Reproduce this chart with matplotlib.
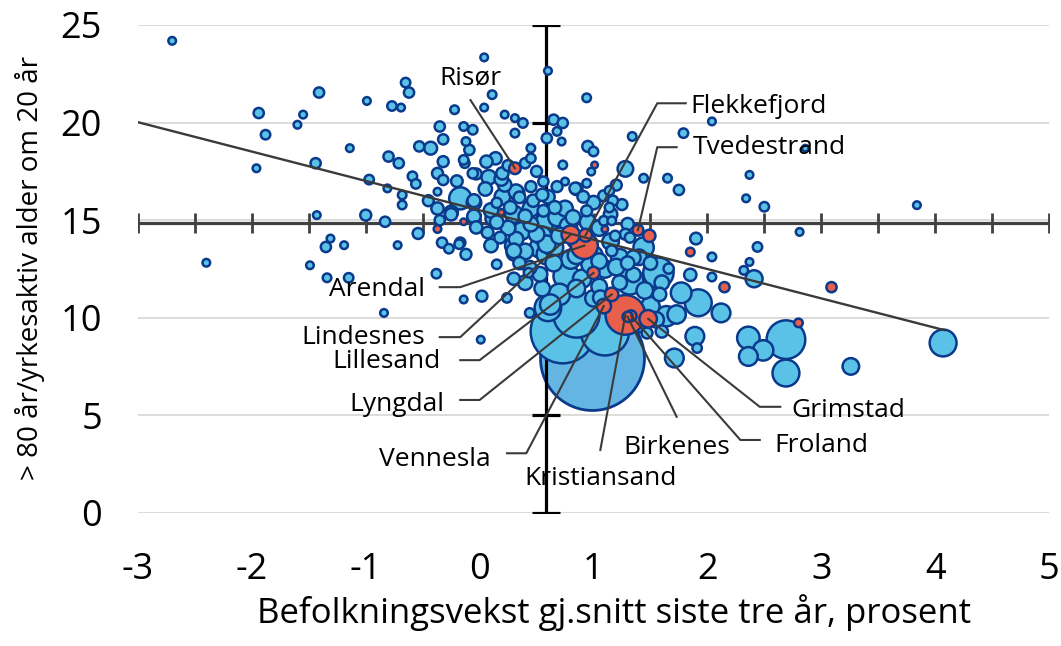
import matplotlib
matplotlib.use("Agg")
import matplotlib.pyplot as plt
import numpy as np

plt.rcParams["font.family"] = ["Open Sans", "DejaVu Sans"]
plt.rcParams["axes.unicode_minus"] = False

# Kommuner utenfor Agder: befolkningsvekst (%), >80 år/yrkesaktiv om 20 år, folketall (tusen)
growth = [
    -2.70, -1.94, -1.88, -1.96, -1.55, -1.60, -1.41, -1.44, -1.43, -1.14, -0.99, -0.97,
    -0.77, -0.69, -0.65, -0.62, -0.81, -0.80, -0.71, -0.68, -0.68, -0.59, -0.56, -1.00,
    -0.83, -0.54, -0.53, -0.43, -0.35, -0.32, -0.32, -0.37, -0.32, -0.37, -0.37, -0.35,
    -1.31, -1.35, -1.19, -2.40, -1.49, -1.34, -1.15, -0.72, -0.38, -0.33, -0.27, -0.84,
    0.04, 0.60, 0.11, -0.22, 0.04, 0.22, 0.31, 0.38, 0.31, 0.59, 0.65, 0.73,
    0.68, 0.72, 0.73, -0.14, -0.06, -0.12, -0.09, 0.14, 0.06, 0.45, 0.40, -0.13,
    -0.17, -0.03, 0.08, 0.22, 0.33, 0.45, 0.56, 0.15, -0.03, 0.07, -0.18, -0.12,
    0.30, 0.37, 0.59, 0.53, 0.30, 0.95, 1.00, 0.45, 0.98, 0.94, -0.14, -0.06,
    0.19, 0.32, 0.68, 0.75, 0.84, 0.91, 1.09, 1.17, 1.14, 1.09, 1.28, 0.35,
    0.47, 0.56, 0.66, 0.27, 0.68, 0.82, 0.94, 1.16, 1.19, 1.32, 0.50, 0.59,
    0.32, 0.18, -0.17, 0.15, 0.02, -0.14, 0.24, 0.01, 0.43, 0.44, 0.31, 0.59,
    0.76, 0.62, 0.73, 0.85, 1.10, 0.60, 1.32, 1.57, 1.92, 1.77, 2.12, 1.89,
    1.71, 2.36, 2.36, 1.64, 1.44, 1.65, 1.75, 2.37, 2.34, 2.50, 3.84, 2.81,
    1.90, 2.44, 2.04, 2.37, 2.32, 2.41, 2.04, 1.66, 4.07, 2.69, 2.49, 2.69,
    3.26, 1.91, 1.58, 1.44, 1.16, 1.47, 0.94, 1.34, 1.79, 2.04, 2.86, 1.14,
    1.28, 0.30, 0.44, 0.53, 0.70, 1.73, 1.23, 1.06, 0.97, 1.23, 1.35, 1.55,
    1.30, 0.85, 1.05, 0.70, 1.00, 0.80, 1.10, -0.25, -0.05, 0.12, 0.45, 0.78,
    0.05, 0.20, 0.10, 0.40, 0.50, 0.25, -0.05, 0.45, 0.15, -0.25, -0.45, -0.20,
    0.55, 0.72, 0.95, 1.15, 1.25, 0.65, 0.85, 1.05, 1.20, 0.90, 1.30, 1.40,
    1.05, 1.45, 1.60, 1.50, 1.85, 1.40, 1.60, 0.40, 0.35, 0.55,
    0.55, 0.75, 1.00, 0.85, 0.40, 0.65, 1.15, 1.30, 0.25, 0.10, -0.05, 0.60,
    0.20, 1.00, 0.85, 1.35, 1.50, 1.20, 0.30,
]
ratio = [
    24.19, 20.49, 19.38, 17.66, 20.41, 19.89, 21.54, 17.92, 15.26, 18.69, 21.11, 17.08,
    20.85, 20.77, 22.05, 21.54, 16.63, 18.26, 17.92, 16.29, 15.78, 17.25, 16.86, 15.26,
    14.92, 14.32, 18.78, 18.69, 19.80, 19.14, 18.00, 17.40, 17.06, 16.46, 15.60, 15.00,
    14.06, 13.63, 13.72, 12.82, 12.69, 12.05, 12.05, 13.72, 12.26, 13.85, 13.54, 10.25,
    23.34, 22.65, 21.43, 20.66, 20.77, 20.41, 20.23, 19.98, 19.46, 19.20, 20.15, 19.98,
    19.55, 19.03, 17.83, 19.80, 19.63, 19.03, 18.60, 18.17, 18.00, 18.17, 17.92, 17.92,
    16.12, 17.37, 17.20, 16.81, 16.38, 16.72, 16.98, 15.89, 14.63, 14.37, 13.77, 13.25,
    15.31, 14.45, 14.97, 13.60, 13.68, 18.78, 18.52, 18.69, 17.49, 16.89, 18.09, 17.40,
    17.11, 16.46, 16.72, 16.98, 16.63, 16.20, 16.25, 16.00, 15.65, 14.97, 17.63, 16.17,
    16.00, 15.48, 15.65, 15.65, 15.14, 15.14, 15.48, 14.97, 14.20, 14.11, 14.28, 13.77,
    14.03, 14.11, 13.85, 12.74, 11.11, 10.94, 11.02, 8.88, 12.31, 10.25, 13.34, 13.25,
    12.14, 10.68, 9.31, 10.17, 9.31, 10.51, 11.88, 12.31, 10.77, 11.28, 10.25, 9.05,
    7.94, 8.97, 8.02, 10.08, 17.15, 17.15, 16.55, 17.32, 16.12, 15.69, 15.77, 14.40,
    14.06, 13.63, 13.12, 12.86, 12.43, 12.00, 12.09, 12.52, 8.71, 8.88, 8.33, 7.17,
    7.51, 8.45, 11.20, 13.60, 13.43, 9.22, 21.27, 19.29, 19.46, 20.06, 18.69, 16.51,
    14.28, 13.43, 12.57, 12.23, 11.20, 10.17, 11.80, 11.03, 12.74, 13.08, 13.08, 9.90,
    10.20, 14.00, 14.60, 14.20, 13.20, 13.00, 12.50, 15.40, 15.90, 15.10, 15.60, 14.70,
    16.60, 16.20, 15.50, 15.20, 17.50, 17.80, 16.00, 14.80, 14.90, 15.30, 16.00, 17.00,
    16.30, 14.60, 14.90, 15.30, 15.80, 13.60, 13.20, 12.90, 12.60, 12.00, 12.80, 13.10,
    11.60, 11.40, 11.80, 10.60, 12.20, 9.60, 9.30, 11.80, 12.80, 11.50,
    14.20, 15.60, 15.90, 16.60, 13.40, 12.80, 13.90, 14.80, 14.60, 13.70, 15.20, 16.20,
    17.40, 11.00, 11.50, 12.20, 12.80, 16.80, 12.00,
]
pop = [
    2, 5, 4, 2, 2, 2, 5, 5, 2, 2, 2, 4,
    4, 2, 4, 5, 2, 5, 5, 3, 3, 4, 4, 6,
    5, 6, 5, 9, 5, 5, 6, 6, 5, 2, 8, 5,
    2, 5, 2, 2, 2, 3, 4, 2, 4, 5, 4, 2,
    2, 2, 3, 3, 2, 2, 2, 4, 3, 5, 5, 5,
    3, 2, 3, 3, 4, 3, 5, 8, 8, 4, 5, 4,
    30, 6, 12, 10, 12, 6, 5, 5, 8, 7, 4, 6,
    18, 18, 25, 25, 18, 6, 4, 3, 2, 3, 4, 5,
    10, 12, 6, 2, 7, 7, 6, 5, 4, 4, 14, 7,
    8, 7, 9, 9, 18, 12, 6, 3, 5, 5, 14, 18,
    12, 7, 5, 4, 6, 2, 4, 2, 4, 4, 16, 25,
    40, 25, 265, 137, 150, 44, 45, 58, 45, 26, 21, 21,
    21, 31, 21, 25, 3, 3, 5, 2, 2, 4, 2, 2,
    7, 4, 3, 2, 3, 17, 3, 5, 45, 95, 25, 45,
    16, 4, 10, 25, 6, 6, 3, 3, 4, 2, 1, 4,
    6, 12, 10, 12, 28, 20, 12, 12, 18, 18, 12, 14,
    2, 20, 14, 16, 20, 22, 18, 10, 12, 14, 16, 18,
    10, 14, 12, 10, 6, 6, 9, 12, 10, 8, 6, 7,
    8, 20, 15, 10, 6, 22, 18, 14, 16, 20, 10, 14,
    14, 16, 12, 20, 8, 10, 8, 12, 8, 14,
    20, 14, 10, 8, 14, 16, 16, 8, 12, 10, 10, 10,
    8, 16, 18, 12, 10, 6, 8,
]

# Agder-kommuner (rød)
agder_names = [
    "Risør", "Flekkefjord", "Tvedestrand", "Arendal", "Lindesnes", "Lillesand",
    "Lyngdal", "Vennesla", "Kristiansand", "Birkenes", "Froland", "Grimstad",
    "", "", "", "", "", "", "", "", "", "",
]
agder_growth = [
    0.31, 0.93, 1.39, 0.92, 0.80, 1.00, 1.16, 1.09, 1.28, 1.30, 1.33, 1.48,
    1.49, 2.15, 3.09, 1.85, 2.80, 1.01, 0.19, -0.14, -0.37, 1.10,
]
agder_ratio = [
    17.66, 14.23, 14.49, 13.70, 14.26, 12.30, 11.20, 10.60, 10.15, 10.05, 10.10, 9.95,
    14.20, 11.57, 11.57, 13.37, 9.74, 17.83, 15.40, 14.92, 14.55, 14.54,
]
agder_pop = [
    7, 9, 6, 45, 20, 8, 10, 12, 100, 5, 6, 18,
    8, 5, 5, 3, 3, 1, 1, 1, 2, 1,
]

oslo_growth = [0.99]
oslo_ratio = [7.92]
oslo_pop = [700]

mean_growth = 0.58
mean_ratio = 14.88
trend_x = [-3.0, 4.08]
trend_y = [20.02, 9.37]

# label placement: text position, alignment, elbow points of the leader line
labels = {
    "Risør": ((-0.08, 22.3), "center", [(-0.08, 21.15)]),
    "Flekkefjord": ((1.85, 20.85), "left", [(1.81, 20.99), (1.56, 20.99)]),
    "Tvedestrand": ((1.87, 18.7), "left", [(1.73, 18.74), (1.56, 18.74)]),
    "Arendal": ((-0.48, 11.45), "right", [(-0.35, 11.57), (-0.17, 11.57)]),
    "Lindesnes": ((-0.48, 9.0), "right", [(-0.35, 9.01), (-0.17, 9.01)]),
    "Lillesand": ((-0.34, 7.75), "right", [(-0.17, 7.83), (0.0, 7.83)]),
    "Lyngdal": ((-0.31, 5.55), "right", [(-0.17, 5.79), (0.0, 5.79)]),
    "Vennesla": ((0.10, 2.75), "right", [(0.24, 3.06), (0.41, 3.06)]),
    "Kristiansand": ((1.06, 1.75), "center", [(1.06, 3.23)]),
    "Birkenes": ((1.73, 3.35), "center", [(1.73, 4.93)]),
    "Froland": ((2.59, 3.45), "left", [(2.46, 3.74), (2.29, 3.74)]),
    "Grimstad": ((2.74, 5.25), "left", [(2.64, 5.44), (2.46, 5.44)]),
}

BLUE = "#5BC2E7"
OSLO_BLUE = "#64B5E3"
RED = "#E8604C"
EDGE = "#0A3A8C"
DARK = "#3A3A3A"
SIZE = 8.0  # points^2 per thousand inhabitants
SIZE_MIN = 14.0


def bubbles(ax, xs, ys, ps, color, z):
    xs, ys, ps = np.array(xs), np.array(ys), np.array(ps, dtype=float)
    order = np.argsort(-ps, kind="stable")
    ax.scatter(xs[order], ys[order], s=ps[order] * SIZE + SIZE_MIN, c=color,
               edgecolors=EDGE, linewidths=1.8, zorder=z, clip_on=False)


fig = plt.figure(figsize=(10.61, 6.46), dpi=100)
ax = fig.add_axes([138 / 1061, 1 - 513 / 646, (1049 - 138) / 1061, (513 - 25) / 646])
ax.set_xlim(-3, 5)
ax.set_ylim(0, 25)
for sp in ax.spines.values():
    sp.set_visible(False)
yticks = list(range(0, 26, 5))
ax.set_yticks(yticks)
ax.set_xticks(range(-3, 6))
ax.tick_params(axis="both", length=0, labelsize=26)
ax.tick_params(axis="y", pad=26)
ax.tick_params(axis="x", pad=28)
ax.yaxis.grid(True, color="#D9D9D9", lw=1.3, zorder=0)
ax.set_axisbelow(True)

ax.scatter(oslo_growth, oslo_ratio, s=np.array(oslo_pop) * SIZE, c=OSLO_BLUE,
           edgecolors=EDGE, linewidths=2.0, zorder=2, clip_on=False)

# crossing axes at the averages
ax.plot([mean_growth, mean_growth], [0, 25], color="black", lw=2.3, zorder=3)
ax.plot([mean_growth] * len(yticks), yticks, ls="none", marker="_", ms=19.5,
        mew=2.3, color="black", zorder=3)
ax.plot([-3, 5], [mean_ratio, mean_ratio], color="#404040", lw=2.3, zorder=3)
ax.plot(np.arange(-3, 5.01, 0.5), [mean_ratio] * 17, ls="none", marker="|", ms=15,
        mew=2.0, color="#404040", zorder=3)

bubbles(ax, growth, ratio, pop, BLUE, 4)
bubbles(ax, agder_growth, agder_ratio, agder_pop, RED, 4.5)

ax.plot(trend_x, trend_y, color=DARK, lw=1.7, zorder=5)

for name, (tpos, ha, elbow) in labels.items():
    i = agder_names.index(name)
    pts = elbow + [(agder_growth[i], agder_ratio[i])]
    ax.plot([p[0] for p in pts], [p[1] for p in pts], color=DARK, lw=1.5, zorder=6)
    ax.text(tpos[0], tpos[1], name, ha=ha, va="center", fontsize=19, zorder=7)

fig.text(614 / 1061, 1 - 613 / 646, "Befolkningsvekst gj.snitt siste tre år, prosent",
         ha="center", va="center", fontsize=25)
fig.text(30 / 1061, 1 - 268 / 646, "> 80 år/yrkesaktiv alder om 20 år",
         ha="center", va="center", rotation=90, fontsize=20)

fig.savefig("out.png", dpi=100)
plt.close(fig)
